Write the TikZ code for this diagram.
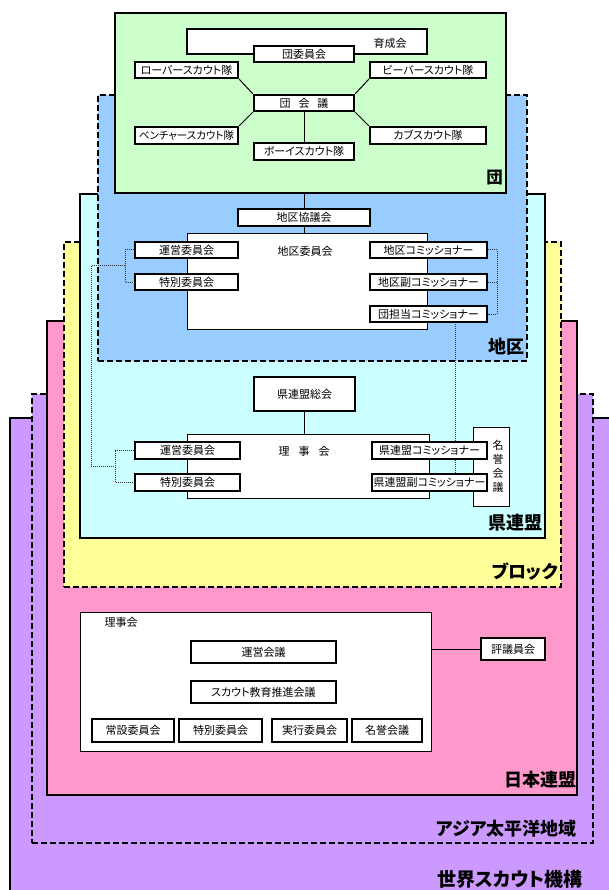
\documentclass[tikz,border=0pt]{standalone}
\usepackage{fontspec}
\setmainfont{Noto Sans CJK JP}[RawFeature=+palt]
\usetikzlibrary{shadows}
\pgfdeclarelayer{bg}
\pgfdeclarelayer{conn}
\pgfsetlayers{bg,conn,main}
\definecolor{cworld}{HTML}{CC99FF}
\definecolor{cnippon}{HTML}{FF99CC}
\definecolor{cblock}{HTML}{FFFF99}
\definecolor{cken}{HTML}{CCFFFF}
\definecolor{cchiku}{HTML}{99CCFF}
\definecolor{cdan}{HTML}{CCFFCC}
\newcommand\fs{\fontsize{11pt}{13pt}\selectfont}
\newcommand\fss{\fontsize{10.5pt}{13pt}\selectfont}
\newcommand\lblfs{\fontsize{18pt}{20pt}\selectfont\bfseries}
\tikzset{
  layer/.style={draw=black, line width=2pt, inner sep=0pt, outer sep=0pt},
  dashlayer/.style={layer, dash pattern=on 6pt off 3pt},
  box/.style={draw=black, fill=white, line width=1.1pt, inner sep=0pt, font=\fs,
    drop shadow={shadow xshift=1.2pt, shadow yshift=-1.2pt, fill=gray!70, opacity=1}},
  thickbox/.style={box, line width=2.4pt},
  bigbox/.style={draw=black, fill=white, line width=1pt, inner sep=0pt},
  dotline/.style={draw=gray!40!black, line width=1pt, dash pattern=on 1pt off 1pt},
  conn/.style={draw=black, line width=1pt},
  lbl/.style={font=\lblfs, anchor=east, inner sep=0pt},
  txt/.style={font=\fs, inner sep=0pt},
}
\begin{document}
\begin{tikzpicture}[x=1pt,y=-1pt]
\useasboundingbox (0,0) rectangle (608,890);
\begin{pgfonlayer}{bg}
\fill[white] (0,0) rectangle (608,890);
\node[layer, fill=cworld, minimum width=620pt, minimum height=490pt] (world) at (320,663) {};
\node[dashlayer, fill=cworld, minimum width=561pt, minimum height=449pt] (asia) at (312.5,618.5) {};
\node[layer, fill=cnippon, minimum width=530pt, minimum height=474pt] (nippon) at (312,558) {};
\node[dashlayer, fill=cblock, minimum width=497pt, minimum height=345pt] (block) at (312.5,414.5) {};
\node[layer, fill=cken, minimum width=465pt, minimum height=344pt] (ken) at (312.5,366) {};
\node[dashlayer, fill=cchiku, minimum width=429pt, minimum height=266pt] (chiku) at (312.5,228) {};
\node[layer, fill=cdan, minimum width=391pt, minimum height=180pt] (dan) at (310.5,103) {};
\end{pgfonlayer}

% ---- 団 ----
\node[box, drop shadow={opacity=0}, minimum width=240pt, minimum height=25pt] (ikusei) at (307,41.5) {};
\node[txt] (ikuseilbl) at (390,43) {育成会};
\node[thickbox, minimum width=100pt, minimum height=16pt] (daniin) at (304,54) {団委員会};
\node[thickbox, minimum width=103pt, minimum height=16pt] (rover) at (186.5,70) {ローバースカウト隊};
\node[thickbox, minimum width=116pt, minimum height=16pt] (beaver) at (428,70) {ビーバースカウト隊};
\node[thickbox, minimum width=100pt, minimum height=16pt] (dankaigi) at (304,103) {団\hspace{8pt}会\hspace{8pt}議};
\node[thickbox, minimum width=103pt, minimum height=17pt, font=\fss] (venture) at (186.5,135.5) {ベンチャースカウト隊};
\node[thickbox, minimum width=116pt, minimum height=17pt] (cub) at (428,135.5) {カブスカウト隊};
\node[thickbox, minimum width=100pt, minimum height=17pt] (boy) at (304,151.5) {ボーイスカウト隊};

% ---- 地区 ----
\node[thickbox, minimum width=132pt, minimum height=17pt] (chikyo) at (304,217.5) {地区協議会};
\node[bigbox, minimum width=240pt, minimum height=95pt] (chiiin) at (307,281.5) {};
\node[txt] (chiiinlbl) at (305,251) {地区委員会};
\node[box, minimum width=103pt, minimum height=16pt] (c_unei) at (186.5,250) {運営委員会};
\node[box, minimum width=103pt, minimum height=16pt] (c_toku) at (186.5,282) {特別委員会};
\node[box, minimum width=117pt, minimum height=16pt] (c_comm) at (428.5,250) {地区コミッショナー};
\node[box, minimum width=117pt, minimum height=16pt] (c_fuku) at (428.5,282) {地区副コミッショナー};
\node[box, minimum width=117pt, minimum height=16pt] (c_dan) at (428.5,314) {団担当コミッショナー};

% ---- 県連盟 ----
\node[thickbox, minimum width=101pt, minimum height=34pt] (kensokai) at (304.5,394) {県連盟総会};
\node[bigbox, minimum width=242pt, minimum height=64pt] (kenriji) at (308,466) {};
\node[txt] (kenrijilbl) at (304,451) {理\hspace{9pt}事\hspace{9pt}会};
\node[bigbox, minimum width=36pt, minimum height=79pt] (meiyo) at (491,466.5) {};
\node[txt, align=center, font=\fontsize{11pt}{14pt}\selectfont] (meiyolbl) at (498,466.5) {名\\誉\\会\\議};
\node[box, minimum width=105pt, minimum height=17pt] (k_unei) at (187.5,450.5) {運営委員会};
\node[box, minimum width=105pt, minimum height=17pt] (k_toku) at (187.5,482.5) {特別委員会};
\node[box, minimum width=115pt, minimum height=17pt] (k_comm) at (429.5,450.5) {県連盟コミッショナー};
\node[box, minimum width=115pt, minimum height=17pt] (k_fuku) at (429.5,482.5) {県連盟副コミッショナー};

% ---- 日本連盟 ----
\node[bigbox, minimum width=351pt, minimum height=139pt] (nriji) at (255.5,681.5) {};
\node[txt] (nrijilbl) at (121,622) {理事会};
\node[box, minimum width=145pt, minimum height=22pt] (n_unei) at (263.5,652) {運営会議};
\node[box, minimum width=145pt, minimum height=22pt] (n_suishin) at (263.5,692) {スカウト教育推進会議};
\node[box, minimum width=82pt, minimum height=23pt] (n_josetsu) at (133,730.5) {常設委員会};
\node[box, minimum width=83pt, minimum height=23pt] (n_toku) at (220.5,730.5) {特別委員会};
\node[box, minimum width=75pt, minimum height=23pt] (n_jikko) at (309.5,730.5) {実行委員会};
\node[box, minimum width=70pt, minimum height=23pt] (n_meiyo) at (387,730.5) {名誉会議};
\node[box, minimum width=64pt, minimum height=22pt] (hyogi) at (513,649) {評議員会};

% ---- layer labels ----
\node[lbl, font=\fontsize{16.5pt}{18pt}\selectfont\bfseries] (l_dan) at (503,178) {団};
\node[lbl] (l_chiku) at (525,347) {地区};
\node[lbl] (l_ken) at (543,523) {県連盟};
\node[lbl] (l_block) at (558,572) {ブロック};
\node[lbl] (l_nippon) at (577,780) {日本連盟};
\node[lbl] (l_asia) at (577,829) {アジア太平洋地域};
\node[lbl, font=\fontsize{19pt}{21pt}\selectfont\bfseries] (l_world) at (583,879) {世界スカウト機構};

% ---- connectors ----
\coordinate (cl) at (125,266);
\coordinate (kl) at (115,466);
\coordinate (cr) at (497,282);
\coordinate (dv) at (455,322);
\begin{pgfonlayer}{conn}
\draw[conn] (rover.south east) -- (dankaigi.north west);
\draw[conn] (beaver.south west) -- (dankaigi.north east);
\draw[conn] (venture.north east) -- (dankaigi.south west);
\draw[conn] (cub.north west) -- (dankaigi.south east);
\draw[conn] (dankaigi.south) -- (boy.north);
\draw[conn] (chikyo.north |- dan.south) -- (chikyo.north);
\draw[conn] (chikyo.south) -- (chikyo.south |- chiiin.north);
\draw[conn] (kensokai.south) -- (kensokai.south |- kenriji.north);
\draw[conn] (hyogi.west) -- (hyogi.west -| nriji.east);
\draw[dotline] (c_unei.west) -- (c_unei.west -| cl) -- (c_toku.west -| cl) -- (c_toku.west);
\draw[dotline] (cl) -- ++(-34,0) |- (kl);
\draw[dotline] (k_unei.west) -- (k_unei.west -| kl) -- (k_toku.west -| kl) -- (k_toku.west);
\draw[dotline] (c_comm.east) -- (c_comm.east -| cr) -- (c_dan.east -| cr) -- (c_dan.east);
\draw[dotline] (c_fuku.east) -- (cr);
\draw[dotline] (dv) -- (dv |- k_fuku.north);
\end{pgfonlayer}
\end{tikzpicture}
\end{document}
